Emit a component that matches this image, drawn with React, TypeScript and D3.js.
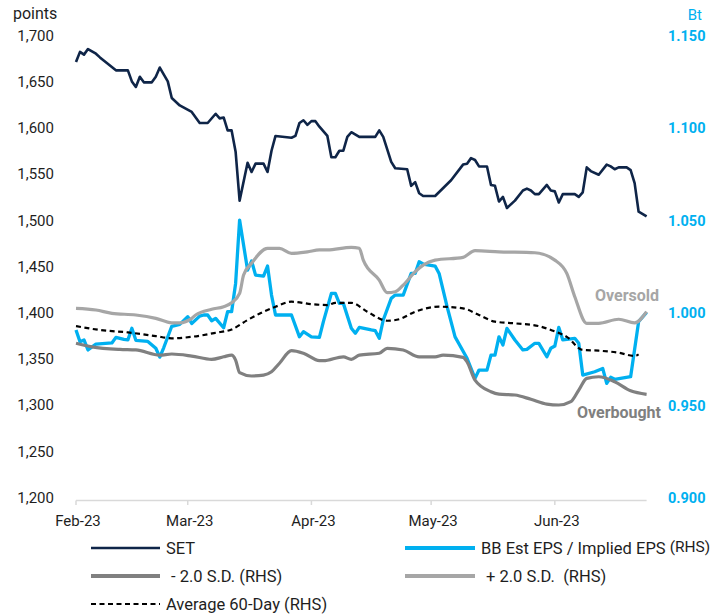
import React from "react";
import * as d3 from "d3";

const X_DOMAIN = ["02-01", "06-24"];
const X_TICKS = ["02-01", "03-01", "04-01", "05-01", "06-01"];
const X_TICK_LABELS = ["Feb-23", "Mar-23", "Apr-23", "May-23", "Jun-23"];
const LEFT_TICKS = [1200, 1250, 1300, 1350, 1400, 1450, 1500, 1550, 1600, 1650, 1700];
const RIGHT_TICKS = [0.9, 0.95, 1.0, 1.05, 1.1, 1.15];

const SET: [string, number][] = [
  ["02-01", 1674], ["02-02", 1685], ["02-03", 1682], ["02-04", 1688], ["02-06", 1683], ["02-07", 1679],
  ["02-11", 1665], ["02-14", 1665], ["02-15", 1653], ["02-16", 1647], ["02-17", 1658], ["02-18", 1652],
  ["02-20", 1652], ["02-21", 1658], ["02-22", 1668], ["02-24", 1653], ["02-25", 1635], ["02-27", 1627],
  ["03-02", 1620], ["03-04", 1608], ["03-06", 1608], ["03-08", 1618], ["03-09", 1613], ["03-10", 1614],
  ["03-11", 1600], ["03-12", 1600], ["03-13", 1577], ["03-14", 1524], ["03-16", 1565], ["03-17", 1555],
  ["03-18", 1564], ["03-20", 1564], ["03-21", 1555], ["03-22", 1578], ["03-23", 1594], ["03-27", 1592],
  ["03-28", 1594], ["03-29", 1608], ["03-30", 1611], ["03-31", 1606], ["04-01", 1610], ["04-02", 1610],
  ["04-03", 1604], ["04-05", 1594], ["04-06", 1571], ["04-07", 1571], ["04-08", 1578], ["04-09", 1578],
  ["04-10", 1593], ["04-11", 1598], ["04-13", 1593], ["04-17", 1593], ["04-18", 1600], ["04-19", 1593],
  ["04-21", 1566], ["04-22", 1559], ["04-25", 1558], ["04-26", 1540], ["04-27", 1544], ["04-28", 1532],
  ["04-29", 1529], ["05-02", 1529], ["05-06", 1546], ["05-09", 1563], ["05-10", 1564], ["05-11", 1570],
  ["05-12", 1568], ["05-13", 1561], ["05-15", 1561], ["05-16", 1541], ["05-17", 1540], ["05-18", 1523],
  ["05-19", 1528], ["05-20", 1516], ["05-22", 1524], ["05-24", 1535], ["05-25", 1537], ["05-26", 1535],
  ["05-27", 1531], ["05-28", 1531], ["05-30", 1541], ["05-31", 1535], ["06-01", 1534], ["06-02", 1522],
  ["06-03", 1531], ["06-06", 1531], ["06-07", 1528], ["06-08", 1533], ["06-09", 1560], ["06-10", 1556],
  ["06-12", 1552], ["06-14", 1563], ["06-15", 1561], ["06-16", 1558], ["06-17", 1560], ["06-19", 1560],
  ["06-20", 1557], ["06-21", 1543], ["06-22", 1512], ["06-24", 1507],
];

const EPS: [string, number][] = [
  ["02-01", 0.992], ["02-02", 0.9856], ["02-03", 0.9866], ["02-04", 0.9812], ["02-06", 0.9844], ["02-10", 0.985],
  ["02-11", 0.988], ["02-13", 0.9869], ["02-14", 0.9866], ["02-15", 0.9929], ["02-16", 0.9864], ["02-19", 0.9858],
  ["02-21", 0.9821], ["02-22", 0.9773], ["02-23", 0.9825], ["02-25", 0.994], ["02-27", 0.995], ["03-01", 0.9992],
  ["03-02", 0.9955], ["03-04", 0.9995], ["03-05", 1.0001], ["03-06", 1.0001], ["03-07", 0.997], ["03-08", 0.9983],
  ["03-10", 0.9932], ["03-11", 1.0019], ["03-12", 1.0019], ["03-13", 1.0172], ["03-14", 1.0515], ["03-16", 1.0244],
  ["03-17", 1.0293], ["03-18", 1.0217], ["03-20", 1.0212], ["03-21", 1.0266], ["03-22", 1.0109], ["03-23", 1.0001],
  ["03-27", 1.0001], ["03-29", 0.9883], ["03-30", 0.9911], ["04-01", 0.9883], ["04-03", 0.988], ["04-04", 0.9965],
  ["04-06", 1.0118], ["04-07", 1.0118], ["04-08", 1.0064], ["04-09", 1.0064], ["04-11", 0.9929], ["04-12", 0.9902],
  ["04-13", 0.9934], ["04-16", 0.992], ["04-17", 0.9916], ["04-18", 0.9875], ["04-19", 0.9974], ["04-21", 1.0091],
  ["04-22", 1.0109], ["04-24", 1.0109], ["04-26", 1.0226], ["04-27", 1.0226], ["04-28", 1.0289], ["04-29", 1.0277],
  ["05-02", 1.0266], ["05-03", 1.0226], ["05-05", 1.0046], ["05-07", 0.9883], ["05-10", 0.9767], ["05-12", 0.9658],
  ["05-13", 0.9703], ["05-15", 0.9703], ["05-16", 0.9784], ["05-17", 0.9784], ["05-18", 0.9883], ["05-19", 0.9839],
  ["05-20", 0.9929], ["05-22", 0.9866], ["05-24", 0.9812], ["05-25", 0.9815], ["05-27", 0.9848], ["05-28", 0.9848],
  ["05-30", 0.9775], ["05-31", 0.9821], ["06-01", 0.9833], ["06-02", 0.9934], ["06-03", 0.9866], ["06-06", 0.9875],
  ["06-07", 0.9848], ["06-08", 0.9676], ["06-11", 0.9694], ["06-13", 0.9712], ["06-14", 0.9631], ["06-15", 0.9664],
  ["06-16", 0.9653], ["06-20", 0.9667], ["06-22", 0.9965], ["06-24", 1.0015],
];

const MINUS_2SD: [string, number][] = [
  ["02-01", 0.9848], ["02-05", 0.9829], ["02-12", 0.9815], ["02-16", 0.9812], ["02-22", 0.9784], ["02-25", 0.979],
  ["03-02", 0.9779], ["03-07", 0.9761], ["03-10", 0.9775], ["03-12", 0.9784], ["03-13", 0.9757], ["03-14", 0.9689],
  ["03-17", 0.9671], ["03-20", 0.9676], ["03-22", 0.9694], ["03-24", 0.974], ["03-27", 0.9808], ["03-30", 0.9794],
  ["04-03", 0.9754], ["04-04", 0.9754], ["04-09", 0.9775], ["04-11", 0.9761], ["04-13", 0.9784], ["04-18", 0.9794],
  ["04-20", 0.9821], ["04-24", 0.9812], ["04-28", 0.9775], ["05-02", 0.9775], ["05-04", 0.9784], ["05-09", 0.9772],
  ["05-10", 0.9748], ["05-12", 0.9649], ["05-16", 0.9586], ["05-18", 0.9573], ["05-22", 0.9568], ["05-26", 0.9545],
  ["05-30", 0.9519], ["06-02", 0.9514], ["06-05", 0.9532], ["06-07", 0.9595], ["06-09", 0.9658], ["06-12", 0.9667],
  ["06-16", 0.964], ["06-20", 0.9591], ["06-24", 0.9572],
];

const PLUS_2SD: [string, number][] = [
  ["02-01", 1.0037], ["02-06", 1.0028], ["02-10", 1.001], ["02-16", 1.0001], ["02-21", 0.9983], ["02-25", 0.9959],
  ["02-27", 0.9959], ["03-02", 0.9983], ["03-03", 1.0001], ["03-07", 1.0032], ["03-10", 1.0046], ["03-12", 1.0067],
  ["03-14", 1.0118], ["03-15", 1.0217], ["03-17", 1.0281], ["03-21", 1.0362], ["03-24", 1.0362], ["03-27", 1.0335],
  ["03-31", 1.0343], ["04-03", 1.0353], ["04-05", 1.0353], ["04-11", 1.0367], ["04-13", 1.0362], ["04-14", 1.0298],
  ["04-18", 1.019], ["04-20", 1.0122], ["04-22", 1.0127], ["04-24", 1.0163], ["04-27", 1.0235], ["04-29", 1.0271],
  ["05-02", 1.0298], ["05-09", 1.0313], ["05-12", 1.0349], ["05-18", 1.0343], ["05-27", 1.0338], ["06-01", 1.0298],
  ["06-04", 1.0226], ["06-06", 1.01], ["06-09", 0.9956], ["06-12", 0.9956], ["06-17", 0.9978], ["06-21", 0.9959],
  ["06-24", 1.0019],
];

const AVG_60D: [string, number][] = [
  ["02-01", 0.9941], ["02-07", 0.992], ["02-14", 0.9907], ["02-21", 0.9887], ["02-25", 0.9875], ["03-02", 0.9883],
  ["03-08", 0.9905], ["03-12", 0.9923], ["03-16", 0.9974], ["03-20", 1.0019], ["03-23", 1.0046], ["03-27", 1.0073],
  ["04-01", 1.006], ["04-05", 1.0055], ["04-07", 1.0067], ["04-11", 1.0067], ["04-15", 1.0019], ["04-20", 0.997],
  ["04-23", 0.9978], ["04-27", 1.0019], ["05-03", 1.0046], ["05-09", 1.0037], ["05-13", 1.0001], ["05-17", 0.9965],
  ["05-22", 0.9956], ["05-28", 0.9941], ["05-31", 0.992], ["06-04", 0.9883], ["06-08", 0.9812], ["06-12", 0.9808],
  ["06-17", 0.9797], ["06-21", 0.9779], ["06-22", 0.9788],
];

const parse = d3.timeParse("%Y-%m-%d");
const toDate = (s: string) => parse("2023-" + s) as Date;

const FONT = "Roboto, 'Open Sans', sans-serif";
const NAVY = "#0f2548";
const CYAN = "#00b0f0";
const DGREY = "#808080";
const LGREY = "#a6a6a6";
const TEXT = "#1e1e1e";

export default function App() {
  const x = d3.scaleTime().domain(X_DOMAIN.map(toDate)).range([76, 646.6]);
  const yL = d3.scaleLinear().domain([1200, 1700]).range([500, 38]);
  const yR = d3.scaleLinear().domain([0.9, 1.15]).range([500, 38]);

  const lineL = d3.line<[string, number]>().x((d) => x(toDate(d[0]))).y((d) => yL(d[1]));
  const lineR = d3.line<[string, number]>().x((d) => x(toDate(d[0]))).y((d) => yR(d[1]));
  const smoothR = d3
    .line<[string, number]>()
    .x((d) => x(toDate(d[0])))
    .y((d) => yR(d[1]))
    .curve(d3.curveMonotoneX);

  const legendRows = [548, 576, 604];
  const LF = 16.5;

  return (
    <svg
      width={723}
      height={615}
      style={{ position: "absolute", left: 0, top: 0, background: "#fff" }}
      fontFamily={FONT}
    >
      <text x={13} y={19} fontSize={16} fill={TEXT}>points</text>
      <text x={702} y={20} fontSize={15} fill={CYAN} textAnchor="end">Bt</text>

      {LEFT_TICKS.map((t) => (
        <text key={t} x={54} y={yL(t) - 2.5} dy="0.35em" fontSize={15} fill={TEXT} textAnchor="end">
          {d3.format(",")(t)}
        </text>
      ))}
      {RIGHT_TICKS.map((t) => (
        <text key={t} x={668} y={yR(t) - 2} dy="0.35em" fontSize={14.5} fontWeight="bold" fill={CYAN}>
          {d3.format(".3f")(t)}
        </text>
      ))}

      <line x1={x(toDate(X_DOMAIN[0]))} x2={x(toDate(X_DOMAIN[1]))} y1={500.5} y2={500.5} stroke="#d9d9d9" strokeWidth={1.5} />
      {X_TICKS.map((t, i) => (
        <g key={t}>
          <line x1={x(toDate(t))} x2={x(toDate(t))} y1={500.5} y2={505} stroke="#d9d9d9" strokeWidth={1.5} />
          <text x={x(toDate(t)) + 2} y={526} fontSize={15} fill={TEXT} textAnchor="middle">
            {X_TICK_LABELS[i]}
          </text>
        </g>
      ))}

      <path d={lineL(SET) ?? ""} fill="none" stroke={NAVY} strokeWidth={2.6} strokeLinejoin="round" />
      <path d={lineR(EPS) ?? ""} fill="none" stroke={CYAN} strokeWidth={3.3} strokeLinejoin="round" />
      <path d={smoothR(MINUS_2SD) ?? ""} fill="none" stroke={DGREY} strokeWidth={3.2} strokeLinejoin="round" />
      <path d={smoothR(PLUS_2SD) ?? ""} fill="none" stroke={LGREY} strokeWidth={3.2} strokeLinejoin="round" />
      <path d={smoothR(AVG_60D) ?? ""} fill="none" stroke="#000" strokeWidth={2.2} strokeDasharray="5,3.5" />

      <text x={659} y={301} fontSize={16} fontWeight="bold" fill={LGREY} textAnchor="end">Oversold</text>
      <text x={661} y={418} fontSize={16} fontWeight="bold" fill={DGREY} textAnchor="end">Overbought</text>

      <line x1={91} x2={160} y1={legendRows[0]} y2={legendRows[0]} stroke={NAVY} strokeWidth={2.6} />
      <text x={166} y={legendRows[0] + 6} fontSize={LF} fill={TEXT}>SET</text>

      <line x1={405} x2={475} y1={legendRows[0]} y2={legendRows[0]} stroke={CYAN} strokeWidth={4} />
      <text x={481} y={legendRows[0] + 6} fontSize={LF} fill={TEXT}>
        BB Est EPS / Implied EPS <tspan fontSize={15.5} dy={-2}>(RHS)</tspan>
      </text>

      <line x1={91} x2={160} y1={legendRows[1]} y2={legendRows[1]} stroke={DGREY} strokeWidth={4} />
      <text x={171} y={legendRows[1] + 6} fontSize={LF} fill={TEXT} style={{ whiteSpace: "pre" }}>- 2.0 S.D. (RHS)</text>

      <line x1={405} x2={475} y1={legendRows[1]} y2={legendRows[1]} stroke={LGREY} strokeWidth={4} />
      <text x={486} y={legendRows[1] + 6} fontSize={LF} fill={TEXT} style={{ whiteSpace: "pre" }}>+ 2.0 S.D.  (RHS)</text>

      <line x1={91} x2={160} y1={legendRows[2]} y2={legendRows[2]} stroke="#000" strokeWidth={2.2} strokeDasharray="5,3.5" />
      <text x={166} y={legendRows[2] + 6} fontSize={LF} fill={TEXT}>Average 60-Day (RHS)</text>
    </svg>
  );
}
